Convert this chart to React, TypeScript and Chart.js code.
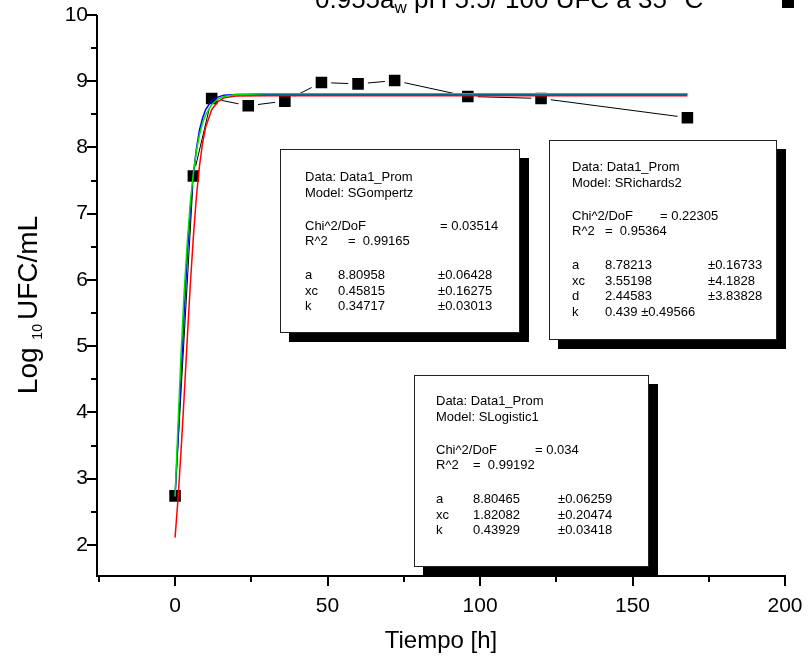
import React, { useEffect, useRef } from "react";
import { Chart, registerables } from "chart.js";

Chart.register(...registerables);

// ---- data ----
const sampleTimes = [0, 6, 12, 24, 36, 48, 60, 72, 96, 120, 168];
const sampleLogCounts = [2.74, 7.57, 8.74, 8.63, 8.70, 8.98, 8.96, 9.01, 8.77, 8.74, 8.45];

const fitTimes = [0, 1, 2, 3, 4, 5, 6, 7, 8, 9, 10, 12, 14, 16, 20, 30, 60, 100, 168];
const gompertzCurve = [2.73, 3.85, 4.91, 5.83, 6.57, 7.17, 7.61, 7.95, 8.19, 8.37, 8.49, 8.65, 8.73, 8.77, 8.80, 8.81, 8.81, 8.81, 8.81];
const logisticCurve = [2.73, 3.62, 4.58, 5.52, 6.36, 7.06, 7.59, 7.98, 8.26, 8.44, 8.57, 8.71, 8.76, 8.79, 8.80, 8.805, 8.805, 8.805, 8.805];
const richardsCurve = [2.11, 2.72, 3.45, 4.26, 5.11, 5.93, 6.65, 7.26, 7.72, 8.06, 8.30, 8.57, 8.69, 8.75, 8.776, 8.782, 8.782, 8.782, 8.782];

const xMajorTicks = [0, 50, 100, 150, 200];
const xMinorTicks = [-25, 25, 75, 125, 175];
const yMajorTicks = [2, 3, 4, 5, 6, 7, 8, 9, 10];
const yMinorTicks = [2.5, 3.5, 4.5, 5.5, 6.5, 7.5, 8.5, 9.5];

const legendMain = "0.955a";
const legendSub = "w";
const legendRest = " pH 5.5/ 100 UFC a 35 °C";
const xTitle = "Tiempo [h]";
const yTitleMain = "Log ";
const yTitleSub = "10";
const yTitleRest = "UFC/mL";

const dataName = "Data1_Prom";
const gompertzStats = ["0.03514", "0.99165"];
const gompertzParams = [
  ["a", "8.80958", "±0.06428"],
  ["xc", "0.45815", "±0.16275"],
  ["k", "0.34717", "±0.03013"],
];
const richardsStats = ["0.22305", "0.95364"];
const richardsParams = [
  ["a", "8.78213", "±0.16733"],
  ["xc", "3.55198", "±4.1828"],
  ["d", "2.44583", "±3.83828"],
  ["k", "0.439", "±0.49566"],
];
const logisticStats = ["0.034", "0.99192"];
const logisticParams = [
  ["a", "8.80465", "±0.06259"],
  ["xc", "1.82082", "±0.20474"],
  ["k", "0.43929", "±0.03418"],
];

const FONT = '"Liberation Sans", Arial, Helvetica, sans-serif';

const toPoints = (xs: number[], ys: number[]) => xs.map((x, i) => ({ x, y: ys[i] }));

const decorPlugin = {
  id: "decor",
  afterDraw(chart: any) {
    const { ctx, chartArea: a, scales } = chart;
    const xs = scales.x;
    const ys = scales.y;
    ctx.save();
    ctx.strokeStyle = "#000";
    ctx.fillStyle = "#000";
    ctx.lineWidth = 2;
    ctx.beginPath();
    ctx.moveTo(a.left, a.top);
    ctx.lineTo(a.left, a.bottom);
    ctx.moveTo(a.left - 1, a.bottom);
    ctx.lineTo(a.right + 1, a.bottom);
    ctx.stroke();

    ctx.beginPath();
    xMajorTicks.forEach((v) => {
      const p = Math.round(xs.getPixelForValue(v));
      ctx.moveTo(p, a.bottom);
      ctx.lineTo(p, a.bottom + 10);
    });
    xMinorTicks.forEach((v) => {
      const p = Math.round(xs.getPixelForValue(v));
      ctx.moveTo(p, a.bottom);
      ctx.lineTo(p, a.bottom + 6);
    });
    yMajorTicks.forEach((v) => {
      const p = Math.round(ys.getPixelForValue(v));
      ctx.moveTo(a.left, p);
      ctx.lineTo(a.left - 10, p);
    });
    yMinorTicks.forEach((v) => {
      const p = Math.round(ys.getPixelForValue(v));
      ctx.moveTo(a.left, p);
      ctx.lineTo(a.left - 6, p);
    });
    ctx.stroke();

    // tick labels
    ctx.font = `21px ${FONT}`;
    ctx.textBaseline = "middle";
    ctx.textAlign = "center";
    xMajorTicks.forEach((v) => {
      ctx.fillText(String(v), xs.getPixelForValue(v), a.bottom + 30);
    });
    ctx.textAlign = "right";
    yMajorTicks.forEach((v) => {
      ctx.fillText(String(v), a.left - 9, ys.getPixelForValue(v));
    });

    // x title
    ctx.font = `24px ${FONT}`;
    ctx.textAlign = "center";
    ctx.textBaseline = "middle";
    ctx.fillText(xTitle, (a.left + a.right) / 2, 641);

    // y title (rotated, with subscript)
    ctx.save();
    ctx.translate(27, 305);
    ctx.rotate(-Math.PI / 2);
    ctx.textAlign = "left";
    ctx.textBaseline = "alphabetic";
    ctx.font = `28px ${FONT}`;
    const w1 = ctx.measureText(yTitleMain).width;
    const w3 = ctx.measureText(yTitleRest).width;
    ctx.font = `14px ${FONT}`;
    const w2 = ctx.measureText(yTitleSub).width;
    const gap = 4;
    let tx = -(w1 + w2 + gap + w3) / 2;
    ctx.font = `28px ${FONT}`;
    ctx.fillText(yTitleMain, tx, 10);
    tx += w1;
    ctx.font = `14px ${FONT}`;
    ctx.fillText(yTitleSub, tx, 15);
    tx += w2 + gap;
    ctx.font = `28px ${FONT}`;
    ctx.fillText(yTitleRest, tx, 10);
    ctx.restore();

    // top legend (cut off by the top edge)
    ctx.textAlign = "left";
    ctx.textBaseline = "alphabetic";
    let lx = 315;
    ctx.font = `26px ${FONT}`;
    ctx.fillText(legendMain, lx, 8);
    lx += ctx.measureText(legendMain).width;
    ctx.font = `17px ${FONT}`;
    ctx.fillText(legendSub, lx, 13);
    lx += ctx.measureText(legendSub).width;
    ctx.font = `26px ${FONT}`;
    ctx.fillText(legendRest, lx, 8);
    ctx.fillRect(782, -4, 12, 12);

    ctx.restore();
  },
};

type BoxSpec = {
  model: string;
  stats: string[];
  params: string[][];
  left: number;
  top: number;
  w: number;
  h: number;
  tx: number;
  val: number;
  err: number;
  chiEq: number;
  r2Eq: number;
  y0: number;
  inlineLast?: boolean;
};

function StatBox({ b }: { b: BoxSpec }) {
  const rowTop = (yc: number) => yc - 8;
  const t = (text: string, x: number, yc: number, key: string) => (
    <span
      key={key}
      style={{
        position: "absolute",
        left: x,
        top: rowTop(yc),
        lineHeight: "16px",
        whiteSpace: "pre",
      }}
    >
      {text}
    </span>
  );
  const items: any[] = [];
  items.push(t(`Data: ${dataName}`, b.tx, b.y0, "d"));
  items.push(t(`Model: ${b.model}`, b.tx, b.y0 + 16, "m"));
  items.push(t("Chi^2/DoF", b.tx, b.y0 + 49, "c1"));
  items.push(t(`= ${b.stats[0]}`, b.chiEq, b.y0 + 49, "c2"));
  items.push(t("R^2", b.tx, b.y0 + 64, "r1"));
  items.push(t(`=  ${b.stats[1]}`, b.r2Eq, b.y0 + 64, "r2"));
  b.params.forEach((p, i) => {
    const yc = b.y0 + 98 + 15.7 * i;
    items.push(t(p[0], b.tx, yc, `p${i}a`));
    if (b.inlineLast && i === b.params.length - 1) {
      items.push(t(`${p[1]} ${p[2]}`, b.val, yc, `p${i}b`));
    } else {
      items.push(t(p[1], b.val, yc, `p${i}b`));
      items.push(t(p[2], b.err, yc, `p${i}c`));
    }
  });
  return (
    <div
      style={{
        position: "absolute",
        left: b.left,
        top: b.top,
        width: b.w,
        height: b.h,
        boxSizing: "border-box",
        border: "1px solid #222",
        background: "#fff",
        boxShadow: "9px 9px 0 0 #000",
        fontFamily: FONT,
        fontSize: 13,
        color: "#000",
      }}
    >
      <div style={{ position: "absolute", left: -1, top: -1 }}>{items}</div>
    </div>
  );
}

export default function App() {
  const canvasRef = useRef<HTMLCanvasElement>(null);

  useEffect(() => {
    const canvas = canvasRef.current;
    if (!canvas) return;
    const chart = new Chart(canvas, {
      type: "scatter",
      data: {
        datasets: [
          {
            label: "Data1_Prom",
            data: toPoints(sampleTimes, sampleLogCounts),
            showLine: true,
            borderColor: "#000",
            borderWidth: 1,
            pointStyle: "rect",
            pointRadius: 11,
            pointBackgroundColor: "#000",
            pointBorderColor: "#fff",
            pointBorderWidth: 4,
            order: 10,
          },
          {
            label: "SRichards2",
            data: toPoints(fitTimes, richardsCurve),
            showLine: true,
            borderColor: "#ff0000",
            borderWidth: 1.5,
            pointRadius: 0,
            order: 3,
          },
          {
            label: "SLogistic1",
            data: toPoints(fitTimes, logisticCurve),
            showLine: true,
            borderColor: "#0000ff",
            borderWidth: 1.5,
            pointRadius: 0,
            order: 2,
          },
          {
            label: "SGompertz",
            data: toPoints(fitTimes, gompertzCurve),
            showLine: true,
            borderColor: "#00dd00",
            borderWidth: 1.5,
            pointRadius: 0,
            order: 1,
          },
        ],
      },
      options: {
        responsive: false,
        animation: false,
        events: [],
        layout: { padding: { top: 15, right: 24, left: 0, bottom: 0 } },
        plugins: {
          legend: { display: false },
          tooltip: { enabled: false },
          title: { display: false },
        },
        scales: {
          x: {
            type: "linear",
            min: -25.6,
            max: 200,
            afterBuildTicks: (s: any) => {
              s.ticks = xMajorTicks.map((v) => ({ value: v }));
            },
            afterFit: (s: any) => {
              s.height = 93;
            },
            grid: { display: false, drawTicks: false },
            border: { display: false },
            ticks: { display: false },
          },
          y: {
            type: "linear",
            min: 1.53,
            max: 10,
            afterBuildTicks: (s: any) => {
              s.ticks = yMajorTicks.map((v) => ({ value: v }));
            },
            afterFit: (s: any) => {
              s.width = 97;
            },
            grid: { display: false, drawTicks: false },
            border: { display: false },
            ticks: { display: false },
          },
        },
      },
      plugins: [decorPlugin],
    });
    return () => chart.destroy();
  }, []);

  const boxes: BoxSpec[] = [
    { model: "SGompertz", stats: gompertzStats, params: gompertzParams, left: 280, top: 149, w: 240, h: 184, tx: 25, val: 58, err: 158, chiEq: 160, r2Eq: 68, y0: 28 },
    { model: "SRichards2", stats: richardsStats, params: richardsParams, left: 549, top: 140, w: 228, h: 200, tx: 23, val: 56, err: 159, chiEq: 111, r2Eq: 56, y0: 27, inlineLast: true },
    { model: "SLogistic1", stats: logisticStats, params: logisticParams, left: 414, top: 375, w: 235, h: 192, tx: 22, val: 59, err: 144, chiEq: 121, r2Eq: 59, y0: 26 },
  ];

  return (
    <div
      style={{
        position: "absolute",
        left: 0,
        top: 0,
        width: 809,
        height: 669,
        overflow: "hidden",
        background: "#fff",
      }}
    >
      <canvas ref={canvasRef} width={809} height={669} style={{ display: "block", position: "absolute", left: 0, top: 0 }} />
      {boxes.map((b) => (
        <StatBox key={b.model} b={b} />
      ))}
    </div>
  );
}
